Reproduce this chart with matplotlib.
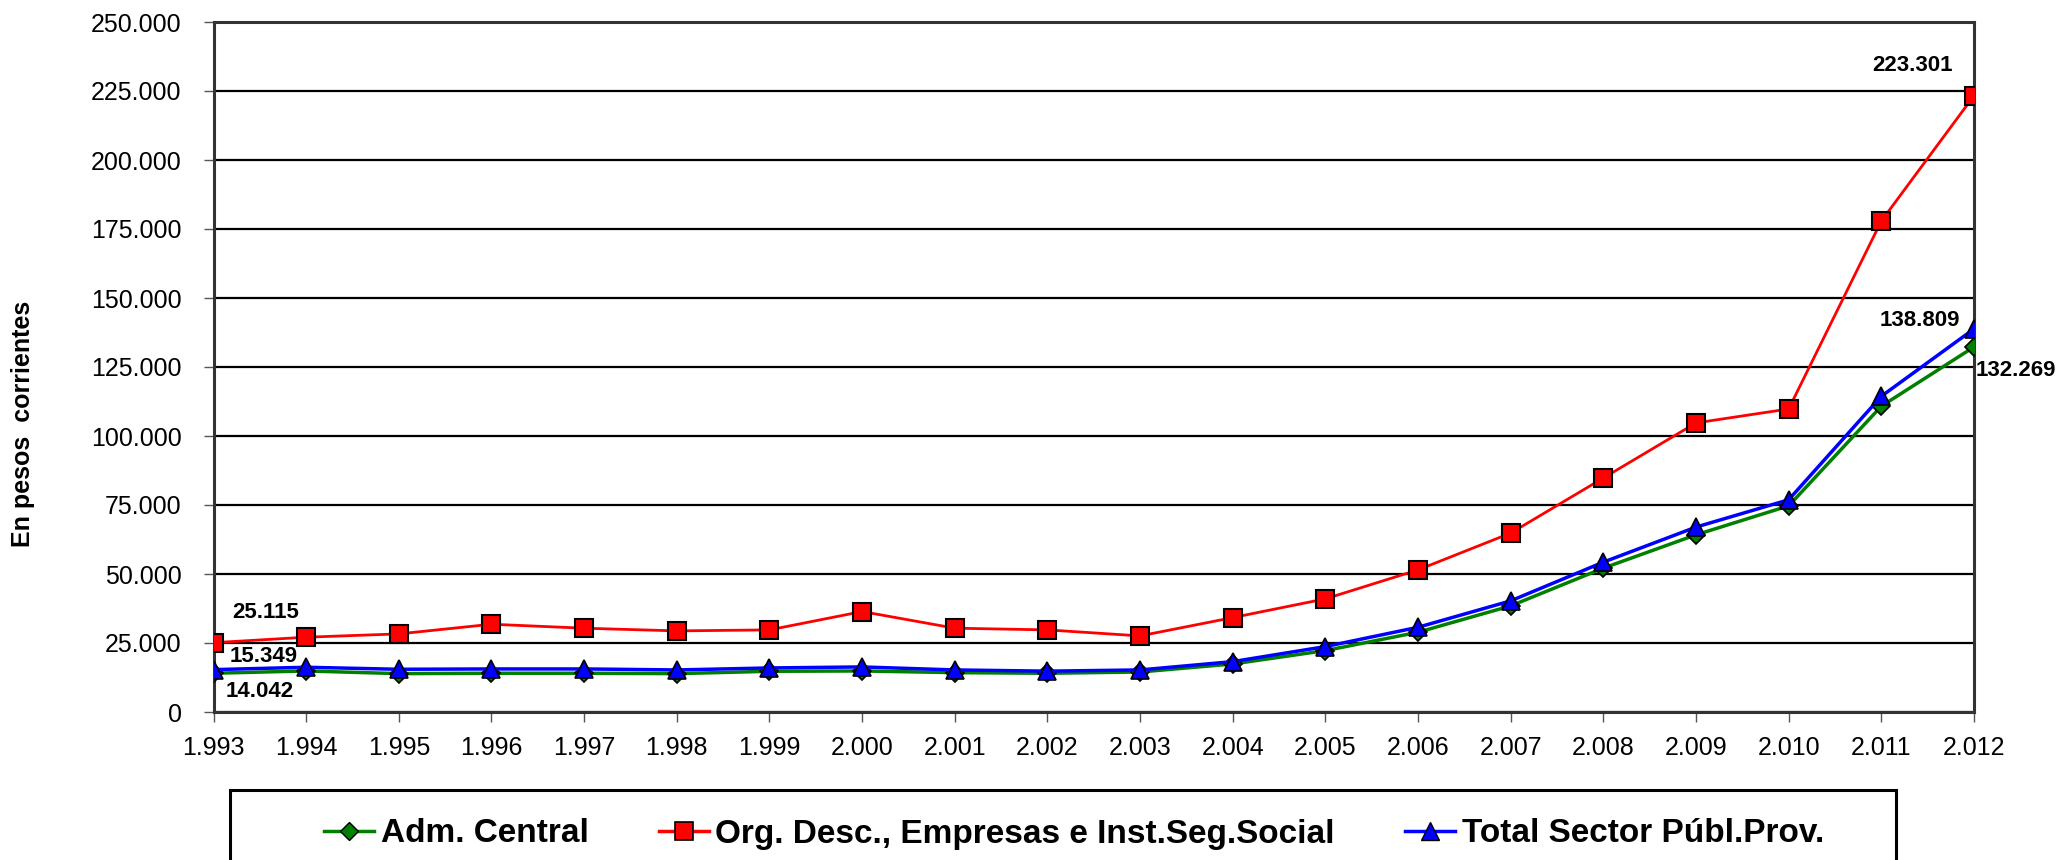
import matplotlib
matplotlib.use("Agg")
import matplotlib.pyplot as plt
from matplotlib.patches import Rectangle
from matplotlib.lines import Line2D

plt.rcParams['font.family'] = ['Liberation Sans', 'DejaVu Sans']

years = [1993, 1994, 1995, 1996, 1997, 1998, 1999, 2000, 2001, 2002,
         2003, 2004, 2005, 2006, 2007, 2008, 2009, 2010, 2011, 2012]
year_labels = [f"{y // 1000}.{y % 1000:03d}" for y in years]

adm_central = [14042, 14870, 13900, 14040, 14040, 13900, 14750, 14870, 14260, 14030,
               14500, 17400, 22250, 28900, 38450, 52130, 64200, 74700, 110800, 132269]
org_desc = [25115, 27100, 28300, 31800, 30360, 29390, 29750, 36400, 30370, 29750,
            27570, 34210, 41000, 51500, 64830, 84790, 104740, 109800, 177900, 223301]
total_sector = [15349, 16210, 15480, 15600, 15600, 15240, 15960, 16330, 15240, 14800,
                15240, 18250, 23700, 30700, 40270, 54300, 67000, 76900, 114400, 138809]

series_names = ["Adm. Central", "Org. Desc., Empresas e Inst.Seg.Social",
                "Total Sector Públ.Prov."]
y_ticks = list(range(0, 250001, 25000))

W, H = 2064, 860
fig = plt.figure(figsize=(W / 100, H / 100), dpi=100)
ax = fig.add_axes([213.5 / W, 1 - 712 / H, (1974 - 213.5) / W, (712 - 22) / H])

x = list(range(len(years)))
ax.plot(x, adm_central, color='#008000', lw=2.5, marker='D', ms=9,
        mfc='#008000', mec='black', mew=1.2, zorder=4)
ax.plot(x, org_desc, color='#ff0000', lw=2.0, marker='s', ms=13,
        mfc='#ff0000', mec='black', mew=1.5, zorder=4)
ax.plot(x, total_sector, color='#0000ff', lw=2.5, marker='^', ms=13,
        mfc='#0000ff', mec='black', mew=1.2, zorder=5)

ax.set_xlim(0, len(years) - 1)
ax.set_ylim(0, 250000)
ax.set_yticks(y_ticks)
ax.set_yticklabels([f"{v:,}".replace(",", ".") for v in y_ticks], fontsize=18)
ax.set_xticks(x)
ax.set_xticklabels(year_labels, fontsize=18)
ax.tick_params(axis='y', length=7, width=1, color='#555555', pad=16)
ax.tick_params(axis='x', length=7, width=1, color='#555555', pad=10)
ax.yaxis.grid(True, color='black', lw=1.6)
ax.set_axisbelow(True)
for s in ax.spines.values():
    s.set_color('#333333')
    s.set_linewidth(2.2)


def fmt(v):
    return f"{v:,}".replace(",", ".")


lab_kw = dict(textcoords='offset pixels', fontsize=16, fontweight='bold',
              ha='center', va='center', zorder=6, annotation_clip=False)
last = len(years) - 1
ax.annotate(fmt(org_desc[last]), (last, org_desc[last]), xytext=(-61, 30), **lab_kw)
ax.annotate(fmt(total_sector[last]), (last, total_sector[last]), xytext=(-54, 8), **lab_kw)
ax.annotate(fmt(adm_central[last]), (last, adm_central[last]), xytext=(42, -24), **lab_kw)
ax.annotate(fmt(org_desc[0]), (0, org_desc[0]), xytext=(52, 30), **lab_kw)
ax.annotate(fmt(total_sector[0]), (0, total_sector[0]), xytext=(50, 13), **lab_kw)
ax.annotate(fmt(adm_central[0]), (0, adm_central[0]), xytext=(46, -18), **lab_kw)

fig.text(23 / W, 1 - 424 / H, "En pesos  corrientes", rotation=90, fontsize=18,
         fontweight='bold', ha='center', va='center')

# legend box
fig.patches.append(Rectangle((230 / W, -0.05), (1896 - 230) / W, 0.05 + (860 - 790) / H,
                             transform=fig.transFigure, fill=False, ec='black', lw=2.2))
handles = [
    Line2D([], [], color='#008000', lw=2.5, marker='D', ms=9, mfc='#008000', mec='black', mew=1),
    Line2D([], [], color='#ff0000', lw=2.5, marker='s', ms=13, mfc='#ff0000', mec='black', mew=1.2),
    Line2D([], [], color='#0000ff', lw=2.5, marker='^', ms=13, mfc='#0000ff', mec='black', mew=1),
]
fig.legend(handles, series_names, loc='center', bbox_to_anchor=(1074 / W, 1 - 834 / H),
           ncol=3, frameon=False, prop={'size': 24, 'weight': 'bold'},
           handlelength=1.5, handletextpad=0.2, columnspacing=2.1, borderpad=0)

fig.savefig("out.png", dpi=100)
